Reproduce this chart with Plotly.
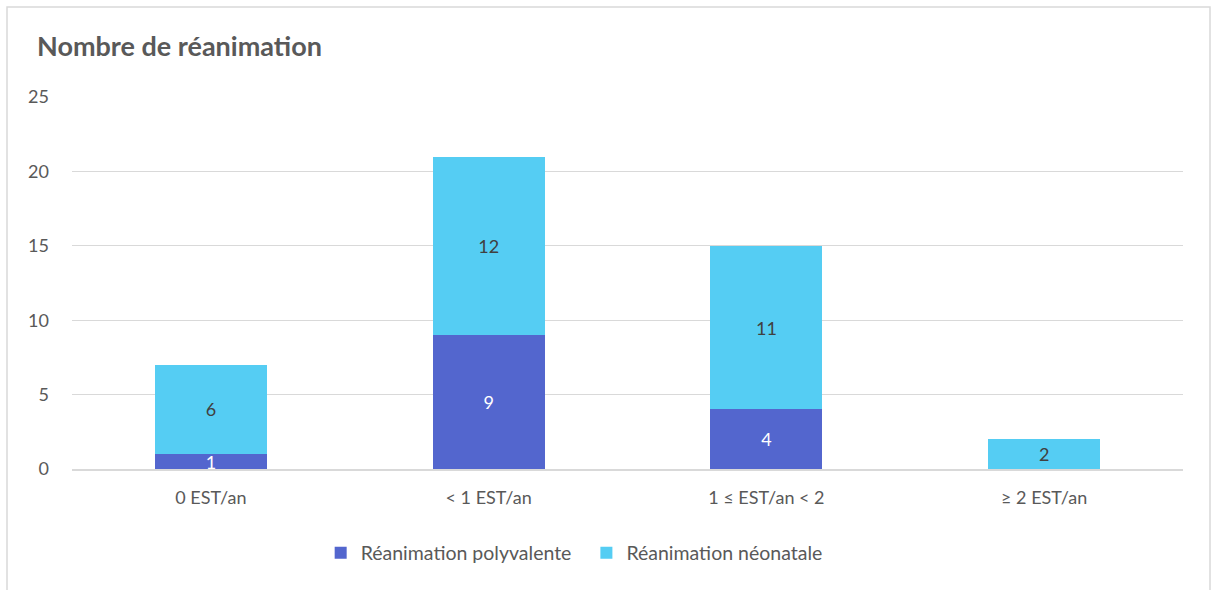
import plotly.graph_objects as go

# Data
categories = ["0 EST/an", "< 1 EST/an", "1 ≤ EST/an < 2", "≥ 2 EST/an"]
polyvalente = [1, 9, 4, 0]
neonatale = [6, 12, 11, 2]

FONT = "Lato, Open Sans, sans-serif"
GREY = "#595959"

fig = go.Figure()

fig.add_trace(go.Bar(
    x=categories, y=polyvalente, name="Réanimation polyvalente\u00a0\u00a0",
    marker=dict(color="#5366CE", line=dict(width=0)),
    text=[str(v) if v else "" for v in polyvalente],
    textposition="inside", insidetextanchor="middle",
    textangle=0, constraintext="none",
    textfont=dict(color="white", size=18, family=FONT),
))
fig.add_trace(go.Bar(
    x=categories, y=neonatale, name="Réanimation néonatale",
    marker=dict(color="#55CDF3", line=dict(width=0)),
    text=[str(v) for v in neonatale],
    textposition="inside", insidetextanchor="middle",
    textangle=0, constraintext="none",
    textfont=dict(color="#404040", size=18, family=FONT),
))

# Outer chart border
fig.add_shape(type="rect", xref="paper", yref="paper",
              x0=-0.0585, x1=1.0243, y0=-0.5, y1=1.242,
              line=dict(color="#D9D9D9", width=1.5), layer="below")

fig.update_layout(
    width=1212, height=590,
    barmode="stack", bargap=0.597,
    margin=dict(l=72, r=29, t=97, b=121),
    paper_bgcolor="white", plot_bgcolor="white",
    font=dict(family=FONT, color=GREY, size=18),
    title=dict(text="<b>Nombre de réanimation</b>", x=37 / 1212, xanchor="left",
               y=1 - 47 / 590, yanchor="middle",
               font=dict(size=27, color=GREY, family=FONT)),
    legend=dict(orientation="h", x=0.452, xanchor="center", y=-0.226, yanchor="middle",
                font=dict(size=19.5, color=GREY, family=FONT), traceorder="normal",
                itemwidth=30),
    showlegend=True,
)

fig.update_yaxes(range=[0, 25], dtick=5, showgrid=True, gridcolor="#D9D9D9", gridwidth=1.2,
                 zeroline=False, showline=False, ticks="", automargin=False,
                 ticklabelstandoff=22,
                 tickfont=dict(size=18, color=GREY, family=FONT))
fig.update_xaxes(showline=True, linecolor="#D9D9D9", linewidth=1.5,
                 ticks="outside", ticklen=12, tickcolor="rgba(0,0,0,0)",
                 tickfont=dict(size=18, color=GREY, family=FONT))

fig.write_html("out.html", config={"displayModeBar": False},
               post_script="document.body.style.margin='0';")
